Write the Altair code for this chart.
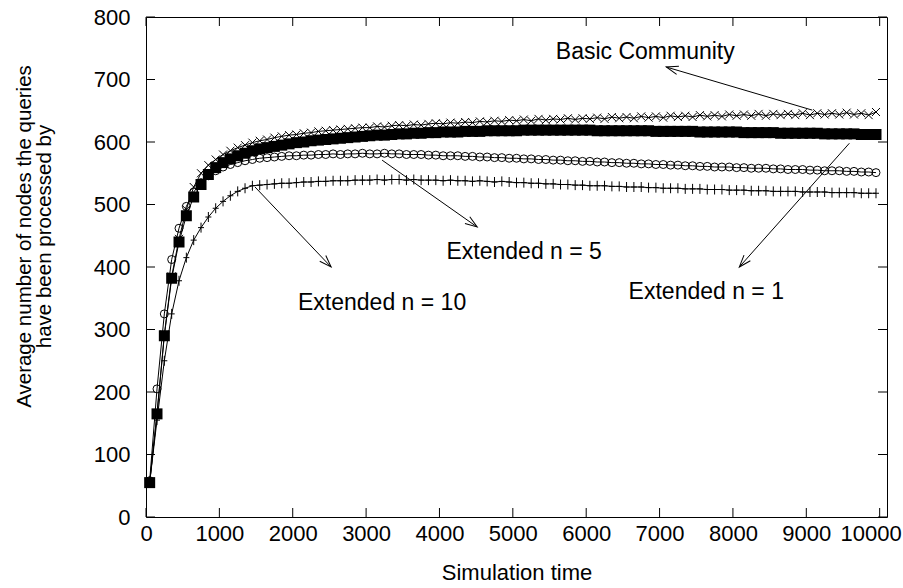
import altair as alt
import pandas as pd

# ---------------- data ----------------
time = [50, 150, 250, 350, 450, 550, 650, 750, 850, 950,
        1050, 1150, 1250, 1350, 1450, 1550, 1650, 1750, 1850, 1950,
        2050, 2150, 2250, 2350, 2450, 2550, 2650, 2750, 2850, 2950,
        3050, 3150, 3250, 3350, 3450, 3550, 3650, 3750, 3850, 3950,
        4050, 4150, 4250, 4350, 4450, 4550, 4650, 4750, 4850, 4950,
        5050, 5150, 5250, 5350, 5450, 5550, 5650, 5750, 5850, 5950,
        6050, 6150, 6250, 6350, 6450, 6550, 6650, 6750, 6850, 6950,
        7050, 7150, 7250, 7350, 7450, 7550, 7650, 7750, 7850, 7950,
        8050, 8150, 8250, 8350, 8450, 8550, 8650, 8750, 8850, 8950,
        9050, 9150, 9250, 9350, 9450, 9550, 9650, 9750, 9850, 9950]

basic = [55, 165, 292, 385, 445, 492, 528, 550, 563, 572,
         580, 586, 591, 595, 599, 602, 604, 607, 609, 611,
         612, 614, 615, 617, 618, 619, 620, 621, 622, 623,
         623, 625, 624, 626, 627, 626, 628, 627, 629, 630,
         629, 631, 630, 632, 631, 633, 632, 634, 633, 635,
         634, 636, 634, 637, 635, 637, 636, 638, 636, 638,
         637, 639, 637, 640, 638, 640, 638, 641, 639, 641,
         639, 642, 640, 642, 640, 643, 641, 643, 641, 644,
         642, 644, 642, 645, 642, 645, 643, 645, 643, 646,
         643, 646, 644, 646, 644, 647, 644, 646, 643, 648]

ext1 = [55, 165, 290, 382, 440, 482, 512, 532, 548, 559,
        567, 573, 578, 582, 586, 589, 591, 593, 595, 597,
        599, 600, 602, 603, 604, 605, 606, 607, 608, 609,
        610, 611, 611, 612, 613, 613, 614, 614, 615, 615,
        616, 616, 616, 617, 617, 617, 618, 618, 618, 618,
        618, 619, 619, 619, 619, 619, 619, 619, 619, 619,
        619, 618, 618, 618, 618, 618, 618, 618, 618, 617,
        617, 617, 617, 617, 617, 616, 616, 616, 616, 616,
        616, 615, 615, 615, 615, 615, 614, 614, 614, 614,
        614, 614, 613, 613, 613, 613, 613, 612, 612, 612]

ext5 = [58, 205, 325, 412, 462, 497, 520, 535, 546, 554,
        560, 564, 567, 570, 572, 574, 575, 576, 577, 578,
        578, 579, 579, 580, 580, 581, 580, 581, 581, 582,
        581, 581, 582, 581, 581, 580, 580, 580, 579, 579,
        578, 578, 578, 577, 577, 576, 576, 575, 575, 574,
        574, 573, 573, 572, 572, 571, 571, 570, 570, 569,
        569, 568, 568, 567, 567, 566, 566, 565, 565, 564,
        564, 563, 563, 562, 562, 561, 561, 560, 560, 560,
        559, 559, 558, 558, 558, 557, 557, 556, 556, 556,
        555, 555, 554, 554, 554, 553, 553, 552, 552, 551]

ext10 = [55, 155, 250, 325, 378, 415, 443, 463, 480, 494,
         505, 514, 521, 526, 530, 531, 532, 533, 534, 534,
         535, 536, 536, 537, 537, 538, 538, 538, 539, 539,
         539, 540, 539, 540, 540, 539, 540, 539, 539, 539,
         538, 539, 538, 538, 537, 538, 537, 536, 537, 536,
         535, 535, 534, 534, 533, 533, 532, 532, 531, 531,
         530, 530, 530, 529, 529, 528, 528, 528, 527, 527,
         526, 526, 526, 525, 525, 525, 524, 524, 524, 523,
         523, 523, 522, 522, 522, 521, 521, 521, 521, 520,
         520, 520, 520, 519, 519, 519, 519, 518, 518, 518]

x_ticks = [0, 1000, 2000, 3000, 4000, 5000, 6000, 7000, 8000, 9000, 10000]
y_ticks = [0, 100, 200, 300, 400, 500, 600, 700, 800]

ann_text = ["Basic Community", "Extended n = 5", "Extended n = 10", "Extended n = 1"]
ann_x = [6805, 5155, 3218, 7637]
ann_y = [744, 424, 342, 360]
arrow_x0 = [9082, 3218, 1486, 9587]
arrow_y0 = [651, 571, 528, 598]
arrow_x1 = [7091, 4514, 2523, 8087]
arrow_y1 = [720, 464, 400, 400]
arrow_angle = [196, 35, 46, 131]

X_TITLE = "Simulation time"
Y_TITLE = ["Average number of nodes the queries", "have been processed by"]

# ---------------- styling ----------------
FONT = "Liberation Sans"
xscale = alt.Scale(domain=[0, 10100], nice=False, zero=False)
yscale = alt.Scale(domain=[0, 800], nice=False, zero=False)

X_SHAPE = "M-1,-1L1,1M-1,1L1,-1"
PLUS_SHAPE = "M-0.6,0L0.6,0M0,-1L0,1"
HEAD_SHAPE = "M-1,-0.35L0,0L-1,0.35"

xaxis = alt.Axis(values=x_ticks, format="d", grid=False, ticks=False, domain=False,
                 labelFont=FONT, labelFontSize=22, labelColor="black",
                 labelPadding=6, labelBaseline="top", labelFlush=False,
                 labelOffset=alt.condition("datum.value >= 10000",
                                           alt.value(-9), alt.value(0)),
                 titleFont=FONT, titleFontSize=22, titleFontWeight="normal",
                 titleColor="black", titleY=45, titleBaseline="top")
yaxis = alt.Axis(values=y_ticks, format="d", grid=False, ticks=False, domain=False,
                 labelFont=FONT, labelFontSize=22, labelColor="black",
                 labelPadding=16, labelFlush=False,
                 titleFont=FONT, titleFontSize=20.5, titleFontWeight="normal",
                 titleColor="black", titleAngle=270, titleX=-132, titleY=219,
                 titleAlign="center", titleBaseline="top", titleLineHeight=20)


def X(field):
    return alt.X(field, type="quantitative", scale=xscale, axis=xaxis, title=X_TITLE)


def Y(field):
    return alt.Y(field, type="quantitative", scale=yscale, axis=yaxis, title=Y_TITLE)


def series_layers(vals, shape, size, filled):
    df = pd.DataFrame({"t": time, "v": vals})
    line = alt.Chart(df).mark_line(color="black", strokeWidth=1).encode(
        x=X("t"), y=Y("v"))
    pts = alt.Chart(df).mark_point(shape=shape, size=size, filled=filled,
                                   color="black", strokeWidth=1, opacity=1).encode(
        x=X("t"), y=Y("v"))
    return [line, pts]


layers = []
layers += series_layers(ext10, PLUS_SHAPE, 100, False)
layers += series_layers(ext5, "circle", 64, False)
layers += series_layers(basic, X_SHAPE, 64, False)
layers += series_layers(ext1, "square", 121, True)

# inward tick marks on all four sides
xt = pd.DataFrame({"t": x_ticks})
yt = pd.DataFrame({"v": y_ticks})
layers.append(alt.Chart(xt).mark_rule(color="black", strokeWidth=1).encode(
    x=X("t"), y=alt.value(500), y2=alt.value(491)))
layers.append(alt.Chart(xt).mark_rule(color="black", strokeWidth=1).encode(
    x=X("t"), y=alt.value(0), y2=alt.value(9)))
layers.append(alt.Chart(yt).mark_rule(color="black", strokeWidth=1).encode(
    y=Y("v"), x=alt.value(0), x2=alt.value(9)))
layers.append(alt.Chart(yt).mark_rule(color="black", strokeWidth=1).encode(
    y=Y("v"), x=alt.value(741), x2=alt.value(732)))

# annotations
ann = pd.DataFrame({"label": ann_text, "tx": ann_x, "ty": ann_y,
                    "x0": arrow_x0, "y0": arrow_y0, "x1": arrow_x1, "y1": arrow_y1,
                    "ang": arrow_angle})
layers.append(alt.Chart(ann).mark_rule(color="black", strokeWidth=1).encode(
    x=X("x0"), y=Y("y0"), x2="x1:Q", y2="y1:Q"))
layers.append(alt.Chart(ann).mark_point(shape=HEAD_SHAPE, size=576, filled=False,
                                        color="black", strokeWidth=1, opacity=1).encode(
    x=X("x1"), y=Y("y1"), angle=alt.Angle("ang:Q", scale=None)))
layers.append(alt.Chart(ann).mark_text(font=FONT, fontSize=23, color="black",
                                       align="center", baseline="middle").encode(
    x=X("tx"), y=Y("ty"), text="label:N"))

chart = alt.layer(*layers).properties(
    width=741, height=500,
    autosize=alt.AutoSizeParams(type="none"),
    padding={"left": 146, "top": 17, "right": 16, "bottom": 71},
    background="white",
).configure_view(stroke="black", strokeWidth=1)

chart.save("out.html", embed_options={"renderer": "svg", "actions": False})
